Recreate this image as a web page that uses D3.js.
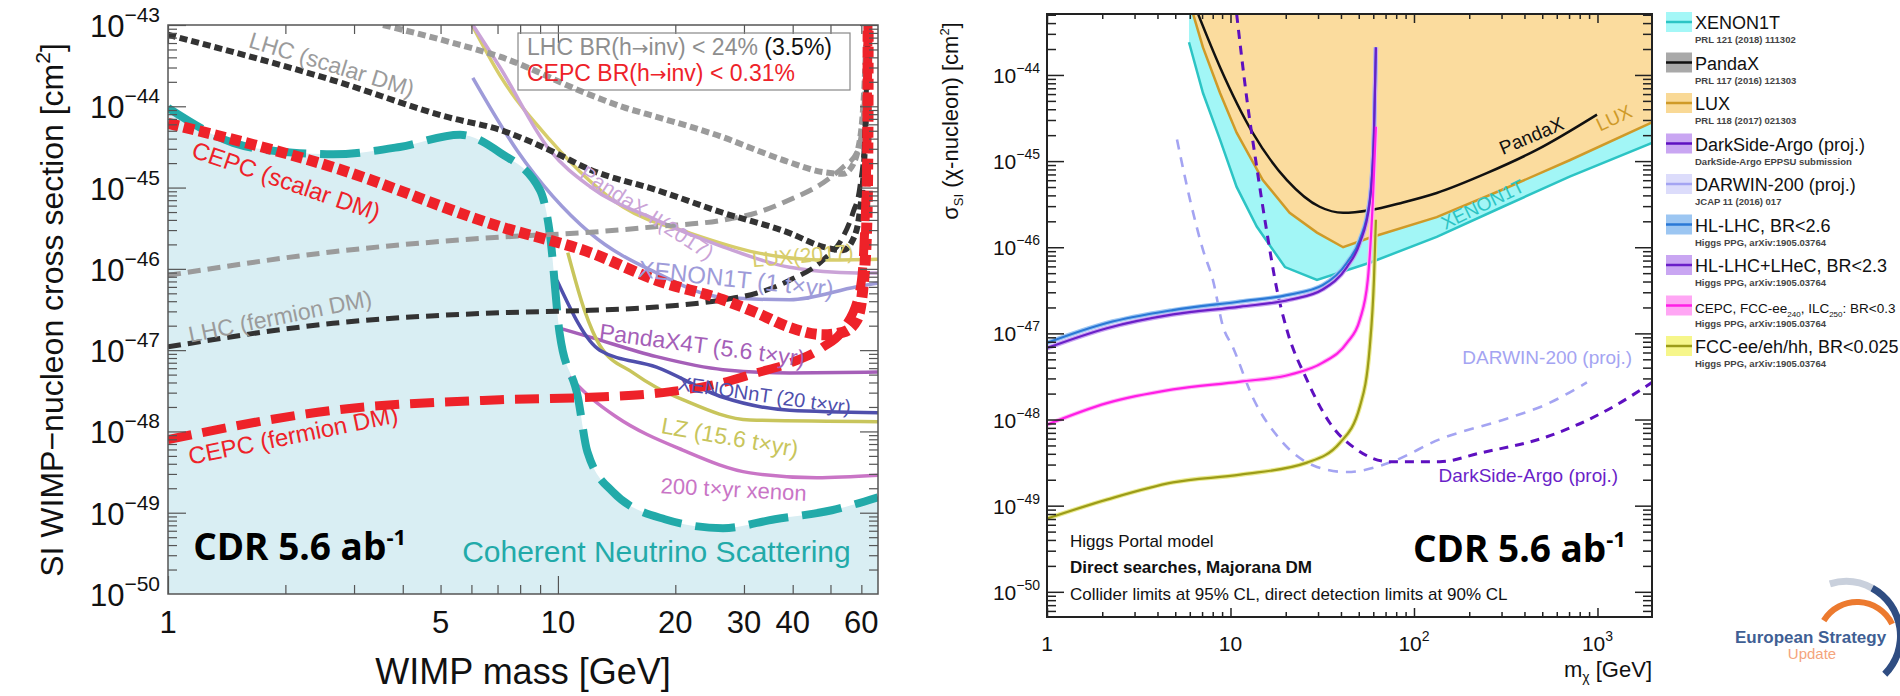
<!DOCTYPE html>
<html>
<head>
<meta charset="utf-8">
<script src="https://cdn.jsdelivr.net/npm/d3@7"></script>
<style>
  body { margin: 0; background: #fff; }
  svg { display: block; }
  text { font-family: "Liberation Sans", Arial, Helvetica, sans-serif; }
</style>
</head>
<body>
<svg id="chart" width="1900" height="696"></svg>
<script>
"use strict";

// ---------- left panel (CEPC CDR): [WIMP mass GeV, log10 sigma cm^2] ----------
const neutrinoFloor = [[1.00,-44.02],[1.47,-44.45],[2.09,-44.57],[2.65,-44.59],[3.93,-44.50],[5.61,-44.35],[7.10,-44.57],[8.99,-45.03],[9.53,-45.56],[10.1,-46.79],[11.25,-47.58],[11.9,-48.25],[13.8,-48.74],[18.8,-49.08],[26.5,-49.19],[36.0,-49.08],[50.4,-48.97],[66.2,-48.81]];
const lhcScalar24 = [[3.56,-43.00],[5.28,-43.21],[7.10,-43.39],[12.1,-43.86],[14.7,-44.01],[17.9,-44.13],[21.8,-44.25],[26.5,-44.38],[32.3,-44.54],[39.3,-44.69],[47.9,-44.81],[53.8,-44.83],[56.0,-44.78],[59.5,-44.41],[61.2,-43.68],[62.0,-43.00]];
const lhcScalar35 = [[1.00,-43.12],[2.65,-43.68],[5.28,-44.14],[7.10,-44.29],[9.53,-44.54],[12.1,-44.78],[17.9,-45.03],[26.5,-45.31],[39.3,-45.56],[47.9,-45.73],[53.8,-45.77],[57.1,-45.64],[59.5,-45.28],[61.2,-44.54],[62.0,-43.68],[62.4,-43.00]];
const lhcFermion24 = [[1.00,-46.08],[2.65,-45.79],[7.10,-45.61],[12.1,-45.55],[17.9,-45.48],[26.5,-45.40],[32.3,-45.31],[39.3,-45.15],[47.9,-44.94],[53.8,-44.75],[58.4,-44.57],[60.6,-44.17],[61.6,-43.55],[62.4,-43.00]];
const lhcFermion35 = [[1.00,-46.96],[2.65,-46.67],[7.10,-46.54],[12.1,-46.51],[17.9,-46.47],[26.5,-46.38],[32.3,-46.30],[39.3,-46.14],[47.9,-45.89],[53.8,-45.61],[57.1,-45.31],[59.5,-44.99],[61.2,-44.41],[62.0,-43.55],[62.4,-43.00]];
const cepcScalar = [[1.00,-44.21],[2.65,-44.75],[7.10,-45.48],[12.1,-45.80],[17.9,-46.14],[26.5,-46.38],[32.3,-46.54],[39.3,-46.72],[47.9,-46.81],[53.8,-46.78],[58.4,-46.63],[60.6,-46.22],[62.0,-45.40],[62.4,-44.17],[62.45,-43.00]];
const cepcFermion = [[1.00,-48.10],[2.65,-47.74],[7.10,-47.61],[12.1,-47.58],[17.9,-47.53],[26.5,-47.40],[32.3,-47.28],[39.3,-47.16],[47.9,-46.96],[53.8,-46.75],[59.5,-46.26],[61.2,-45.52],[62.0,-44.54],[62.4,-43.00]];
const pandaxII = [[6.05,-43.00],[7.10,-43.52],[9.53,-44.54],[12.1,-44.99],[17.9,-45.40],[26.5,-45.73],[39.3,-45.98],[58.4,-46.05],[66.9,-46.05]];
const lux2017 = [[6.02,-43.00],[7.10,-43.62],[9.53,-44.41],[14.7,-45.24],[21.8,-45.56],[32.3,-45.80],[47.9,-45.89],[66.9,-45.88]];
const xenon1tProj = [[6.05,-43.65],[7.85,-44.54],[12.1,-45.56],[17.9,-46.05],[26.5,-46.35],[39.3,-46.38],[58.4,-46.22],[66.9,-46.17]];
const pandax4t = [[9.94,-46.72],[12.1,-46.84],[17.9,-47.08],[26.5,-47.24],[39.3,-47.28],[66.9,-47.27]];
const xenonnt = [[9.94,-46.14],[12.8,-47.00],[17.9,-47.21],[26.5,-47.58],[39.3,-47.74],[66.9,-47.77]];
const lz = [[10.6,-45.80],[11.7,-46.51],[12.8,-46.94],[15.6,-47.28],[17.9,-47.46],[20.9,-47.61],[31.1,-47.86],[66.2,-47.88]];
const xenon200 = [[10.7,-47.33],[12.1,-47.58],[14.1,-47.82],[20.9,-48.23],[31.1,-48.51],[46.1,-48.57],[66.2,-48.54]];
const leftXLabels = [1, 5, 10, 20, 30, 40, 60];
const leftYExps = [-50, -49, -48, -47, -46, -45, -44, -43];

// ---------- right panel (European Strategy): [m_chi GeV, log10 sigma cm^2] ----------
const xenon1t = [[5.94,-43.62],[7.08,-44.21],[8.77,-44.75],[10.8,-45.30],[13.9,-45.76],[19.8,-46.23],[29.6,-46.38],[57.4,-46.18],[133,-45.88],[305,-45.53],[705,-45.18],[1982,-44.79]];
const luxLimit = [[6.25,-43.29],[7.08,-43.68],[8.77,-44.21],[10.8,-44.67],[15.0,-45.22],[21.0,-45.60],[29.6,-45.83],[41.1,-46.00],[57.4,-45.89],[133,-45.65],[305,-45.33],[705,-44.99],[1982,-44.55]];
const pandaxLimit = [[6.65,-43.29],[8.77,-43.91],[13.2,-44.67],[20.3,-45.22],[30.6,-45.53],[41.1,-45.60],[57.4,-45.57],[87.1,-45.48],[133,-45.37],[249,-45.14],[466,-44.87],[994,-44.46]];
const hlLhc = [[1.0,-47.11],[2.12,-46.88],[4.86,-46.73],[11.3,-46.63],[21.0,-46.55],[31.8,-46.44],[43.1,-46.18],[50.7,-45.91],[57.4,-45.45],[60.5,-44.67],[62.0,-43.68]];
const hlLhcLhec = [[1.0,-47.17],[2.12,-46.94],[4.86,-46.78],[11.3,-46.69],[21.0,-46.61],[31.8,-46.49],[43.1,-46.23],[50.7,-45.95],[57.4,-45.48],[60.5,-44.70],[62.0,-43.68]];
const cepcFccIlc = [[1.0,-48.06],[2.12,-47.81],[4.86,-47.65],[11.3,-47.56],[21.0,-47.48],[31.8,-47.34],[43.1,-47.11],[50.7,-46.84],[56.0,-46.38],[59.7,-45.45],[62.0,-44.60]];
const fccAll = [[1.0,-49.15],[2.12,-48.93],[4.86,-48.73],[11.3,-48.64],[26.1,-48.50],[39.5,-48.27],[50.7,-47.85],[57.4,-47.16],[60.5,-46.38],[62.0,-45.68]];
const darkSideArgo = [[10.8,-43.29],[12.3,-44.29],[13.9,-45.07],[15.8,-45.83],[17.9,-46.49],[20.3,-46.96],[26.1,-47.54],[34.8,-48.04],[48.9,-48.35],[73.7,-48.49],[138,-48.49],[228,-48.39],[530,-48.20],[1223,-47.85],[1982,-47.57]];
const darwin200 = [[5.11,-44.75],[6.02,-45.45],[7.08,-46.03],[8.02,-46.38],[9.10,-46.92],[10.3,-47.16],[13.2,-47.74],[18.6,-48.23],[29.6,-48.55],[43.1,-48.61],[73.7,-48.50],[138,-48.23],[320,-47.99],[519,-47.83],[876,-47.57]];
const rightXLabels = [1, 10, 100, 1000];
const rightYExps = [-50, -49, -48, -47, -46, -45, -44];

const legendNames = ["XENON1T", "PandaX", "LUX", "DarkSide-Argo (proj.)", "DARWIN-200 (proj.)", "HL-LHC, BR<2.6", "HL-LHC+LHeC, BR<2.3", "CEPC, FCC-ee_240, ILC_250: BR<0.3", "FCC-ee/eh/hh, BR<0.025"];
const legendRefs = ["PRL 121 (2018) 111302", "PRL 117 (2016) 121303", "PRL 118 (2017) 021303", "DarkSide-Argo EPPSU submission", "JCAP 11 (2016) 017", "Higgs PPG, arXiv:1905.03764", "Higgs PPG, arXiv:1905.03764", "Higgs PPG, arXiv:1905.03764", "Higgs PPG, arXiv:1905.03764"];

// ------------------------------------------------------------------------------------
const svg = d3.select("#chart");
const pow10 = e => Math.pow(10, e);
const isDecade = v => Math.abs(Math.log10(v) - Math.round(Math.log10(v))) < 1e-6;

// inside-pointing log ticks on all four sides
function drawTicks(g, x, y, o) {
  const [xa, xb] = x.range();
  const [yb, ya] = y.range();
  const xt = x.ticks(), yt = y.ticks();
  const xMaj = xt.filter(o.xMajor), xMin = xt.filter(v => !o.xMajor(v));
  const yMaj = yt.filter(isDecade), yMin = yt.filter(v => !isDecade(v));
  const sets = [
    [d3.axisBottom, x, `translate(0,${yb})`, xMaj, -o.xMajLen], [d3.axisBottom, x, `translate(0,${yb})`, xMin, -o.xMinLen],
    [d3.axisTop, x, `translate(0,${ya})`, xMaj, -o.xMajLen], [d3.axisTop, x, `translate(0,${ya})`, xMin, -o.xMinLen],
    [d3.axisLeft, y, `translate(${xa},0)`, yMaj, -o.yMajLen], [d3.axisLeft, y, `translate(${xa},0)`, yMin, -o.yMinLen],
    [d3.axisRight, y, `translate(${xb},0)`, yMaj, -o.yMajLen], [d3.axisRight, y, `translate(${xb},0)`, yMin, -o.yMinLen]
  ];
  sets.forEach(([fn, sc, tr, vals, len]) => {
    const ax = g.append("g").attr("transform", tr).style("color", o.color)
      .call(fn(sc).tickValues(vals).tickSize(len).tickSizeOuter(0).tickFormat(""));
    ax.select(".domain").remove();
    ax.selectAll("line").attr("stroke-width", o.tickWidth);
  });
  g.append("rect")
    .attr("x", xa).attr("y", ya).attr("width", xb - xa).attr("height", yb - ya)
    .attr("fill", "none").attr("stroke", o.color).attr("stroke-width", o.frameWidth);
}

function rotLabel(g, x, y, lb) {
  const t = g.append("text")
    .attr("transform", `translate(${x(lb.m)},${y(pow10(lb.e))}) rotate(${lb.angle || 0})`)
    .attr("text-anchor", lb.anchor || "start")
    .attr("fill", lb.color)
    .style("font-size", lb.size + "px")
    .text(lb.text);
  return t;
}

// text with a proper arrow glyph
function arrowText(t, parts) {
  parts.forEach(p => {
    const s = t.append("tspan").text(p.s);
    if (p.fill) s.attr("fill", p.fill);
    if (p.s === "→") s.style("font-family", "'DejaVu Sans', sans-serif").style("font-size", "20px");
  });
}

// ============================== LEFT PANEL ==============================
const xL = d3.scaleLog().domain([1, 66.2]).range([168, 878]);
const yL = d3.scaleLog().domain([1e-50, 1e-43]).range([594, 25]);
const left = svg.append("g");
left.append("clipPath").attr("id", "clipL").append("rect")
  .attr("x", 168).attr("y", 25).attr("width", 710).attr("height", 569);
const plotL = left.append("g").attr("clip-path", "url(#clipL)");

const lineL = d3.line().x(d => xL(d[0])).y(d => yL(pow10(d[1]))).curve(d3.curveMonotoneX);

plotL.append("path")
  .attr("d", d3.area().x(d => xL(d[0])).y0(yL.range()[0]).y1(d => yL(pow10(d[1]))).curve(d3.curveMonotoneX)(neutrinoFloor))
  .attr("fill", "#d9eef3");

const expCurves = [
  { data: lux2017, color: "#d7cd6b" },
  { data: pandaxII, color: "#caa3d7" },
  { data: xenon1tProj, color: "#9e9bd9" },
  { data: pandax4t, color: "#a55fb8" },
  { data: lz, color: "#c8c55c" },
  { data: xenonnt, color: "#4f4fac" },
  { data: xenon200, color: "#c975c6" }
];
expCurves.forEach(c => plotL.append("path").attr("d", lineL(c.data))
  .attr("fill", "none").attr("stroke", c.color).attr("stroke-width", 3.5));

plotL.append("path").attr("d", lineL(neutrinoFloor))
  .attr("fill", "none").attr("stroke", "#22aaa9").attr("stroke-width", 8).attr("stroke-dasharray", "40,14");

const theoryCurves = [
  { data: lhcScalar24, color: "#9b9b9b", width: 6, dash: "8,4" },
  { data: lhcFermion24, color: "#9b9b9b", width: 5, dash: "13,7" },
  { data: lhcScalar35, color: "#333", width: 6, dash: "8,4" },
  { data: lhcFermion35, color: "#333", width: 5, dash: "13,7" },
  { data: cepcFermion, color: "#ee2229", width: 9, dash: "24,11" },
  { data: cepcScalar, color: "#ee2229", width: 11, dash: "11,5" }
];
theoryCurves.forEach(c => plotL.append("path").attr("d", lineL(c.data))
  .attr("fill", "none").attr("stroke", c.color).attr("stroke-width", c.width).attr("stroke-dasharray", c.dash));

drawTicks(left, xL, yL, {
  xMajor: v => v === 1 || v === 10, xMajLen: 18, xMinLen: 9, yMajLen: 18, yMinLen: 9,
  color: "#555", tickWidth: 1.2, frameWidth: 1.5
});

const leftLabels = [
  { text: "LHC (scalar DM)", m: 1.60, e: -43.27, angle: 17, color: "#9b9b9b", size: 23 },
  { text: "CEPC (scalar DM)", m: 1.14, e: -44.62, angle: 19, color: "#ee2229", size: 24 },
  { text: "LHC (fermion DM)", m: 1.14, e: -46.91, angle: -11.5, color: "#9b9b9b", size: 23 },
  { text: "CEPC (fermion DM)", m: 1.14, e: -48.41, angle: -11.5, color: "#ee2229", size: 24 },
  { text: "PandaX-II(2017)", m: 11.3, e: -44.87, angle: 33, color: "#caa3d7", size: 21 },
  { text: "LUX(2017)", m: 31.6, e: -45.98, angle: -5, color: "#d7cd6b", size: 21 },
  { text: "XENON1T (1 t×yr)", m: 16.0, e: -46.10, angle: 6, color: "#9e9bd9", size: 24 },
  { text: "PandaX4T (5.6 t×yr)", m: 12.7, e: -46.87, angle: 7.5, color: "#a55fb8", size: 23 },
  { text: "XENONnT (20 t×yr)", m: 20.2, e: -47.49, angle: 8, color: "#4f4fac", size: 20 },
  { text: "LZ (15.6 t×yr)", m: 18.3, e: -48.02, angle: 10, color: "#c8c55c", size: 23 },
  { text: "200 t×yr xenon", m: 18.3, e: -48.76, angle: 3, color: "#c975c6", size: 22 },
  { text: "Coherent Neutrino Scattering", m: 5.68, e: -49.61, angle: 0, color: "#22aaa9", size: 30 }
];
leftLabels.forEach(lb => rotLabel(left, xL, yL, lb));

// CDR tag
const cdrL = left.append("text").attr("x", xL(1.16)).attr("y", yL(pow10(-49.58)))
  .style("font-family", "'Open Sans', 'Noto Sans', sans-serif").style("font-weight", 700).style("font-size", "37px").attr("fill", "#000");
cdrL.append("tspan").text("CDR 5.6 ab");
cdrL.append("tspan").attr("dy", -15).style("font-size", "22px").text("-1");

// legend box
left.append("rect").attr("x", 518).attr("y", 33).attr("width", 332).attr("height", 57)
  .attr("fill", "none").attr("stroke", "#888").attr("stroke-width", 1.2);
arrowText(left.append("text").attr("x", 527).attr("y", 55).style("font-size", "23px").attr("fill", "#8e8e8e"),
  [{ s: "LHC BR(h" }, { s: "→" }, { s: "inv) < 24% " }, { s: "(3.5%)", fill: "#111" }]);
arrowText(left.append("text").attr("x", 527).attr("y", 81).style("font-size", "23px").attr("fill", "#ee2229"),
  [{ s: "CEPC BR(h" }, { s: "→" }, { s: "inv) < 0.31%" }]);

// tick labels
leftXLabels.forEach(v => left.append("text").attr("x", xL(v)).attr("y", 633)
  .attr("text-anchor", "middle").style("font-size", "31px").attr("fill", "#111").text(v));
leftYExps.forEach(e => {
  const t = left.append("text").attr("x", 160).attr("y", yL(pow10(e)) + 12)
    .attr("text-anchor", "end").style("font-size", "31px").attr("fill", "#111");
  t.append("tspan").text("10");
  t.append("tspan").attr("dy", -15).style("font-size", "21px").text("−" + Math.abs(e));
});
left.append("text").attr("x", 523).attr("y", 684).attr("text-anchor", "middle")
  .style("font-size", "36px").attr("fill", "#111").text("WIMP mass [GeV]");
const ylabL = left.append("text").attr("transform", "translate(63,310) rotate(-90)")
  .attr("text-anchor", "middle").style("font-size", "32px").attr("fill", "#111");
ylabL.append("tspan").text("SI WIMP−nucleon cross section [cm");
ylabL.append("tspan").attr("dy", -13).style("font-size", "21px").text("2");
ylabL.append("tspan").attr("dy", 13).text("]");

// ============================== RIGHT PANEL ==============================
const xR = d3.scaleLog().domain([1, 1982]).range([1047, 1652]);
const yR = d3.scaleLog().domain([5.1e-51, 5.1e-44]).range([617, 14]);
const right = svg.append("g");
right.append("clipPath").attr("id", "clipR").append("rect")
  .attr("x", 1047).attr("y", 14).attr("width", 605).attr("height", 603);
const plotR = right.append("g").attr("clip-path", "url(#clipR)");

const lineR = d3.line().x(d => xR(d[0])).y(d => yR(pow10(d[1])));
const smoothR = d3.line().x(d => xR(d[0])).y(d => yR(pow10(d[1]))).curve(d3.curveMonotoneX);
const aboveR = d3.area().x(d => xR(d[0])).y0(yR.range()[1]).y1(d => yR(pow10(d[1])));

plotR.append("path").attr("d", aboveR(xenon1t)).attr("fill", "#a2f6f6");
plotR.append("path").attr("d", aboveR(luxLimit)).attr("fill", "#fbdc9e");

plotR.append("path").attr("d", lineR(xenon1t)).attr("fill", "none").attr("stroke", "#2cc4c4").attr("stroke-width", 2.5);
plotR.append("path").attr("d", lineR(luxLimit)).attr("fill", "none").attr("stroke", "#cf9a28").attr("stroke-width", 2.5);
plotR.append("path").attr("d", smoothR(pandaxLimit)).attr("fill", "none").attr("stroke", "#111").attr("stroke-width", 2.5);

plotR.append("path").attr("d", smoothR(darwin200)).attr("fill", "none").attr("stroke", "#a4a4f2")
  .attr("stroke-width", 2.6).attr("stroke-dasharray", "10,8");
plotR.append("path").attr("d", smoothR(darkSideArgo)).attr("fill", "none").attr("stroke", "#5e10c0")
  .attr("stroke-width", 3).attr("stroke-dasharray", "9,7");

const colliderCurves = [
  { data: hlLhc, band: "#9cc6f2", color: "#2a78d6" },
  { data: hlLhcLhec, band: "#c9a6f2", color: "#6a1fc8" },
  { data: cepcFccIlc, band: "#ffb8f6", color: "#ff1ee6" },
  { data: fccAll, band: "#eaea90", color: "#9c9c18" }
];
colliderCurves.forEach(c => plotR.append("path").attr("d", smoothR(c.data)).attr("fill", "none")
  .attr("stroke", c.band).attr("stroke-width", 4.5));
colliderCurves.forEach(c => plotR.append("path").attr("d", smoothR(c.data)).attr("fill", "none")
  .attr("stroke", c.color).attr("stroke-width", 2.2));

drawTicks(right, xR, yR, {
  xMajor: isDecade, xMajLen: 9, xMinLen: 5, yMajLen: 17, yMinLen: 9,
  color: "#222", tickWidth: 1.5, frameWidth: 2
});

const rightLabels = [
  { text: "PandaX", m: 305, e: -44.93, angle: -23, color: "#111", size: 19 },
  { text: "LUX", m: 1032, e: -44.66, angle: -25, color: "#cf9a28", size: 19 },
  { text: "XENON1T", m: 148, e: -45.80, angle: -26, color: "#2cc4c4", size: 19 },
  { text: "DARWIN-200 (proj.)", m: 1542, e: -47.36, angle: 0, color: "#a4a4f2", size: 19, anchor: "end" },
  { text: "DarkSide-Argo (proj.)", m: 1294, e: -48.73, angle: 0, color: "#6a1fc8", size: 19, anchor: "end" },
  { text: "Higgs Portal model", m: 1.335, e: -49.48, angle: 0, color: "#111", size: 17 },
  { text: "Collider limits at 95% CL, direct detection limits at 90% CL", m: 1.335, e: -50.10, angle: 0, color: "#111", size: 17 }
];
rightLabels.forEach(lb => rotLabel(right, xR, yR, lb));
rotLabel(right, xR, yR, { text: "Direct searches, Majorana DM", m: 1.335, e: -49.78, color: "#111", size: 17 })
  .style("font-weight", 700);

const cdrR = right.append("text").attr("x", xR(98.8)).attr("y", yR(pow10(-49.65)))
  .style("font-family", "'Open Sans', 'Noto Sans', sans-serif").style("font-weight", 700).style("font-size", "37px").attr("fill", "#000");
cdrR.append("tspan").text("CDR 5.6 ab");
cdrR.append("tspan").attr("dy", -15).style("font-size", "22px").text("-1");

rightXLabels.forEach(v => {
  const t = right.append("text").attr("x", xR(v)).attr("y", 651).attr("text-anchor", "middle")
    .style("font-size", "21px").attr("fill", "#111");
  const p = Math.round(Math.log10(v));
  if (p < 2) t.text(v);
  else { t.append("tspan").text("10"); t.append("tspan").attr("dy", -10).style("font-size", "14px").text(p); }
});
rightYExps.forEach(e => {
  const t = right.append("text").attr("x", 1040).attr("y", yR(pow10(e)) + 8)
    .attr("text-anchor", "end").style("font-size", "21px").attr("fill", "#111");
  t.append("tspan").text("10");
  t.append("tspan").attr("dy", -10).style("font-size", "14px").text("−" + Math.abs(e));
});
const xlabR = right.append("text").attr("x", 1652).attr("y", 677).attr("text-anchor", "end")
  .style("font-size", "22px").attr("fill", "#111");
xlabR.append("tspan").text("m");
xlabR.append("tspan").attr("dy", 5).style("font-size", "14px").text("χ");
xlabR.append("tspan").attr("dy", -5).text(" [GeV]");
const ylabR = right.append("text").attr("transform", "translate(958,121) rotate(-90)")
  .attr("text-anchor", "middle").style("font-size", "22px").attr("fill", "#111");
ylabR.append("tspan").text("σ");
ylabR.append("tspan").attr("dy", 5).style("font-size", "13px").text("SI");
ylabR.append("tspan").attr("dy", -5).text(" (χ-nucleon) [cm");
ylabR.append("tspan").attr("dy", -9).style("font-size", "13px").text("2");
ylabR.append("tspan").attr("dy", 9).text("]");

// legend
const legendBands = ["#a4f7f7", "#a9a9a9", "#f9d996", "#c9a6f2", "#dcdcfb", "#9cc6f2", "#c9a6f2", "#ffa6f4", "#f6f68a"];
const legendLines = ["#2cc4c4", "#111", "#cf9a28", "#5e10c0", "#a4a4f2", "#2a78d6", "#6a1fc8", "#ff1ee6", "#9c9c18"];
const legend = right.append("g");
legendNames.forEach((name, i) => {
  const cy = 22 + i * 40.5;
  legend.append("rect").attr("x", 1666).attr("y", cy - 10).attr("width", 26).attr("height", 20).attr("fill", legendBands[i]);
  legend.append("line").attr("x1", 1666).attr("x2", 1692).attr("y1", cy).attr("y2", cy)
    .attr("stroke", legendLines[i]).attr("stroke-width", 2.5);
  const small = name.includes("_");
  const t = legend.append("text").attr("x", 1695).attr("y", cy + 7).style("font-size", small ? "13.5px" : "18px").attr("fill", "#111");
  name.split(/_(\d+)/).forEach((part, k) => {
    if (k % 2 === 1) t.append("tspan").attr("dy", 4).style("font-size", "8px").text(part);
    else t.append("tspan").attr("dy", k ? -4 : 0).text(part);
  });
  legend.append("text").attr("x", 1695).attr("y", cy + 21).style("font-size", "9.5px")
    .style("font-weight", 700).attr("fill", "#444").text(legendRefs[i]);
});

// European Strategy Update logo
const logo = svg.append("g");
logo.append("path").attr("transform", "translate(1857,641)")
  .attr("d", d3.arc().innerRadius(36).outerRadius(42).startAngle(-1.02).endAngle(1.12)())
  .attr("fill", "#ec7a2f");
logo.append("path").attr("transform", "translate(1846,636)")
  .attr("d", d3.arc().innerRadius(51).outerRadius(58).startAngle(-0.3).endAngle(0.5)())
  .attr("fill", "#c9d0dc");
logo.append("path").attr("transform", "translate(1846,636)")
  .attr("d", d3.arc().innerRadius(51).outerRadius(58).startAngle(0.5).endAngle(2.35)())
  .attr("fill", "#2f4d82");
logo.append("text").attr("x", 1735).attr("y", 643).style("font-size", "17px").style("font-weight", 700)
  .attr("fill", "#3f5f94").text("European Strategy");
logo.append("text").attr("x", 1812).attr("y", 659).attr("text-anchor", "middle").style("font-size", "15px")
  .attr("fill", "#f4a47c").text("Update");
</script>
</body>
</html>
